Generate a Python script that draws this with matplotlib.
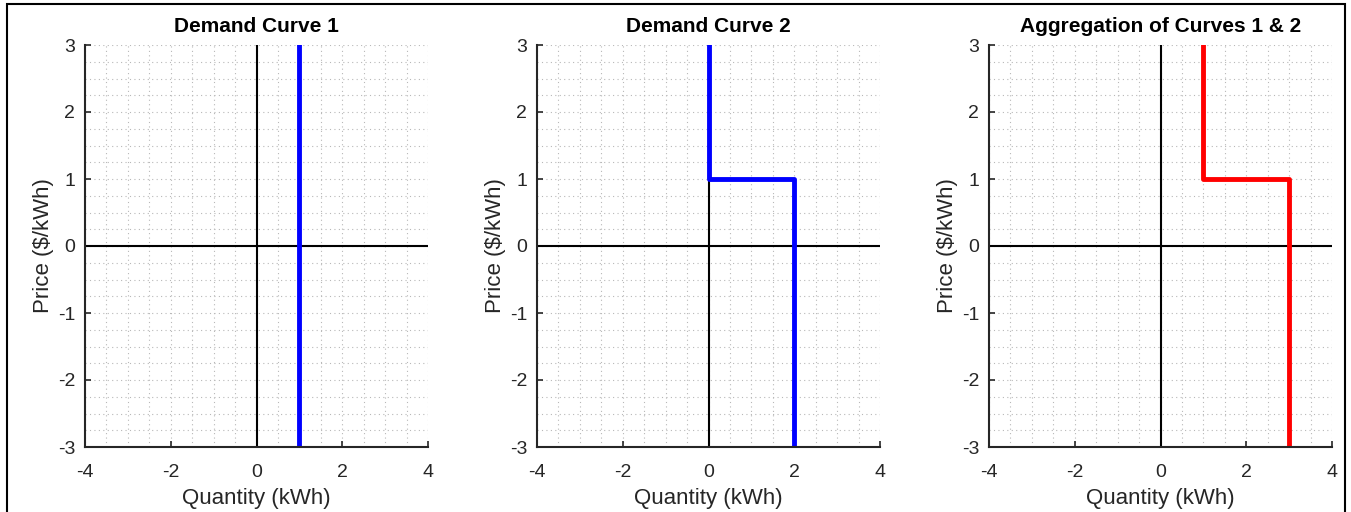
import matplotlib.pyplot as plt
from matplotlib.patches import Rectangle
from matplotlib.ticker import MultipleLocator

plt.rcParams['font.family'] = ['Liberation Sans', 'DejaVu Sans']
plt.rcParams['axes.unicode_minus'] = False

titles = ['Demand Curve 1', 'Demand Curve 2', 'Aggregation of Curves 1 & 2']
colors = ['#0000ff', '#0000ff', '#ff0000']
curve_q = [[1, 1], [0, 0, 2, 2], [1, 1, 3, 3]]
curve_p = [[-3, 3], [3, 1, 1, -3], [3, 1, 1, -3]]
x_ticks = [-4, -2, 0, 2, 4]
y_ticks = [-3, -2, -1, 0, 1, 2, 3]

fig = plt.figure(figsize=(13.51, 5.12), dpi=100)
fig.patches.append(Rectangle((7 / 1351, -0.05), 1338 / 1351, 1.05 - 4 / 512,
                             transform=fig.transFigure, fill=False,
                             edgecolor='black', linewidth=1.5))

lefts = [85, 537, 989]
for i in range(3):
    ax = fig.add_axes([lefts[i] / 1351, 1 - 447 / 512, 343 / 1351, 402 / 512])
    ax.set_xlim(-4, 4)
    ax.set_ylim(-3, 3)
    ax.set_xticks(x_ticks)
    ax.set_yticks(y_ticks)
    ax.xaxis.set_minor_locator(MultipleLocator(0.5))
    ax.yaxis.set_minor_locator(MultipleLocator(0.25))
    ax.grid(which='both', linestyle=(0, (1, 3)), color='#b8b8b8', linewidth=0.8)
    ax.tick_params(which='major', direction='in', length=4, width=1.2, labelsize=14,
                   colors='#262626')
    ax.tick_params(axis='x', which='major', pad=12)
    ax.tick_params(axis='y', which='major', pad=7)
    ax.tick_params(which='minor', length=0)
    for s in ['top', 'right']:
        ax.spines[s].set_visible(False)
    for s in ['left', 'bottom']:
        ax.spines[s].set_linewidth(1.5)
        ax.spines[s].set_color('#262626')
    ax.axhline(0, color='black', linewidth=1.5)
    ax.axvline(0, color='black', linewidth=1.5)
    ax.plot(curve_q[i], curve_p[i], color=colors[i], linewidth=3.5)
    ax.set_title(titles[i], fontsize=15, fontweight='bold', pad=9)
    ax.set_xlabel('Quantity (kWh)', fontsize=16, color='#262626', labelpad=5)
    ax.set_ylabel('Price ($/kWh)', fontsize=16, color='#262626', labelpad=3)

fig.savefig('out.png', dpi=100)
